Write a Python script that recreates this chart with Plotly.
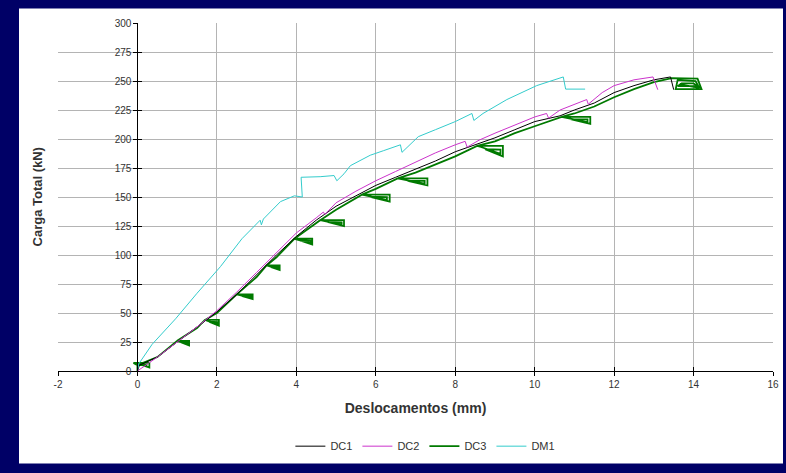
import plotly.graph_objects as go

# ---------------- data ----------------
dc1_x = [0, 0.05, 0.5, 1.0, 1.5, 2.0, 2.5, 3.0, 3.5, 4.0, 4.5, 5.0, 5.5, 6.0, 6.5, 7.0,
         7.5, 8.0, 8.5, 9.0, 9.5, 10.0, 10.64, 11.0, 11.5, 12.0, 12.5, 13.0, 13.42, 13.5]
dc1_y = [0, 5, 12, 25, 38, 51, 66, 83, 100, 116, 130, 142, 151, 160, 167, 174,
         181, 189, 195, 201, 208, 215, 220, 225, 231, 240, 246, 251, 253.5, 242.5]

dc2_x = [0, 0.5, 1.0, 1.5, 2.0, 2.5, 3.0, 3.5, 4.0, 4.5, 4.68, 4.72, 5.0, 5.5, 6.0, 6.5,
         7.0, 7.5, 8.0, 8.25, 8.3, 8.6, 9.0, 9.5, 10.0, 10.3, 10.35, 10.64, 11.31, 11.35,
         11.7, 12.0, 12.5, 12.98, 13.1]
dc2_y = [0, 12, 25, 38, 52, 68, 85, 102, 119, 132, 137, 135, 145, 155, 164, 172,
         180, 188, 195, 198, 193, 199, 205, 212, 219, 222, 218, 225, 234, 230,
         240, 246, 251, 253.5, 242.5]

# DC3 follows the loading curve with small load cycles ("flags") at each load step
dc3_x = [0, 0, -0.1, 0.3, 0.3, 0.05, 0.25, 0, 0.5,
         1.0, 1.3, 1.3, 1.09, 1.27, 1.27, 1.05, 1.0, 1.5,
         1.7, 2.05, 2.05, 1.8, 2.02, 2.02, 1.75, 1.7, 2.0,
         2.5, 2.9, 2.9, 2.62, 2.86, 2.86, 2.56, 2.5, 3.0,
         3.25, 3.58, 3.58, 3.35, 3.55, 3.55, 3.3, 3.25, 3.5,
         3.95, 4.4, 4.4, 4.09, 4.36, 4.36, 4.02, 3.95,
         4.6, 5.2, 5.2, 4.78, 5.14, 5.14, 4.69, 4.6, 5.0,
         5.65, 6.35, 6.35, 5.86, 6.28, 6.28, 5.75, 5.65, 6.0,
         6.55, 7.3, 7.3, 6.78, 7.23, 7.23, 6.66, 6.55, 7.0, 7.5, 8.0,
         8.55, 9.2, 9.2, 8.75, 9.14, 9.14, 8.65, 8.55, 9.0, 9.5, 10.0,
         10.68, 11.4, 11.4, 10.9, 11.33, 11.33, 10.79, 10.68, 11.0, 11.5, 12.0, 12.5, 13.0,
         13.45, 14.1, 14.2, 13.55, 13.6, 14.05, 14.12, 13.6, 13.7, 14.0, 14.15, 13.65]
dc3_y = [0, 5, 7, 7, 3, 6, 5, 5, 12,
         26, 26, 22, 24.8, 24.6, 23, 25.6, 26, 37,
         44, 44, 39, 42.5, 42.2, 40.2, 43.5, 44, 50,
         66, 66, 62, 64.8, 64.6, 63, 65.6, 66, 81,
         91, 91, 87, 89.8, 89.6, 88, 90.6, 91, 98,
         114, 114, 109, 112.5, 112.2, 110.2, 113.5, 114,
         130, 130, 125, 128.5, 128.2, 126.2, 129.5, 130, 139,
         152, 152, 146, 150.2, 149.9, 147.5, 151.4, 152, 157,
         166, 166, 160, 164.2, 163.9, 161.5, 165.4, 166, 171, 178, 185,
         194, 194, 185, 191.3, 190.9, 187.3, 193.1, 194, 198, 205, 211,
         219, 219, 213, 217.2, 216.9, 214.5, 218.4, 219, 222, 228, 236, 243, 249,
         252.5, 252, 243, 243, 251, 250, 245.5, 245.5, 248, 248, 244, 247]

dm1_x = [0, 0.03, 0.37, 0.96, 1.5, 2.09, 2.63, 3.09, 3.12, 3.17, 3.6, 3.95, 4.15, 4.12,
         4.6, 4.95, 5.02, 5.2, 5.36, 5.86, 6.2, 6.62, 6.66, 7.07, 7.5, 8.0, 8.42, 8.47,
         8.7, 9.3, 10.05, 10.4, 10.72, 10.78, 11.27]
dm1_y = [0, 6, 23, 45, 67, 90, 114, 130, 126, 131, 146, 151, 150, 167,
         167.5, 168.5, 164, 170, 177, 186, 190, 195, 188.5, 202, 208, 215, 222, 216,
         222, 234, 246, 250, 253.5, 243, 243]

series_names = ["DC1", "DC2", "DC3", "DM1"]
series_x = [dc1_x, dc2_x, dc3_x, dm1_x]
series_y = [dc1_y, dc2_y, dc3_y, dm1_y]
series_colors = ["#000000", "#CC33CC", "#007A00", "#33CCCC"]
series_widths = [1, 1, 1.8, 1]
draw_order = [2, 0, 1, 3]   # DC3 underneath, as in the reference

x_tickvals = [-2, 0, 2, 4, 6, 8, 10, 12, 14, 16]
x_ticktext = ["-2", "0", "2", "4", "6", "8", "10", "12", "14", "16"]
y_tickvals = [0, 25, 50, 75, 100, 125, 150, 175, 200, 225, 250, 275, 300]

x_range = [-2, 16]
y_range = [0, 300]

FONT = "Liberation Sans, Arial, sans-serif"

fig = go.Figure()
for i in draw_order:
    fig.add_trace(go.Scatter(x=series_x[i], y=series_y[i], mode="lines",
                             name=series_names[i], legendrank=i + 1,
                             line=dict(color=series_colors[i], width=series_widths[i])))

# helper (invisible) trace so the inner half of the crossing ticks is drawn
fig.add_trace(go.Scatter(x=[None], y=[None], xaxis="x2", yaxis="y2",
                         showlegend=False, hoverinfo="skip"))

ypos = (0 - x_range[0]) / (x_range[1] - x_range[0])

axis_common = dict(showline=True, linecolor="#000000", linewidth=1.2,
                   ticks="outside", ticklen=4, tickcolor="#000000", tickwidth=1,
                   zeroline=False, automargin=False,
                   tickfont=dict(family=FONT, size=10, color="#333333"))

fig.update_layout(
    width=786, height=473,
    paper_bgcolor="#000066", plot_bgcolor="#FFFFFF",
    margin=dict(l=58, r=13, t=23, b=89),
    font=dict(family=FONT, color="#333333"),
    showlegend=True,
    legend=dict(orientation="h", x=0.325, xanchor="left", y=-0.216, yanchor="middle",
                font=dict(family=FONT, size=11, color="#333333"),
                bgcolor="rgba(0,0,0,0)", itemwidth=30, tracegroupgap=0),
    xaxis=dict(range=x_range, tickmode="array", tickvals=x_tickvals, ticktext=x_ticktext,
               showgrid=True, gridcolor="#B4B4B4", gridwidth=1,
               title=dict(text="Deslocamentos (mm)", standoff=14,
                          font=dict(family=FONT, size=14, color="#333333", weight="bold")),
               **axis_common),
    yaxis=dict(range=y_range, tickmode="array", tickvals=y_tickvals,
               showgrid=True, gridcolor="#B4B4B4", gridwidth=1,
               anchor="free", position=ypos, **axis_common),
    xaxis2=dict(range=x_range, overlaying="x", anchor="y", side="bottom",
                tickmode="array", tickvals=x_tickvals, ticks="inside", ticklen=4,
                tickcolor="#000000", showticklabels=False, showgrid=False,
                zeroline=False, showline=False),
    yaxis2=dict(range=y_range, overlaying="y", anchor="free", position=ypos,
                tickmode="array", tickvals=y_tickvals, ticks="inside", ticklen=4,
                tickcolor="#000000", showticklabels=False, showgrid=False,
                zeroline=False, showline=False),
    shapes=[dict(type="rect", xref="paper", yref="paper", layer="below",
                 x0=(19 - 58) / 715, x1=(783 - 58) / 715,
                 y0=(384 - 480) / 361, y1=(384 - 8) / 361,
                 fillcolor="#FFFFFF", line=dict(width=0))],
    annotations=[dict(text="Carga Total (kN)", xref="paper", yref="paper",
                      x=(37 - 58) / 715, y=(384 - 204) / 361, textangle=-90,
                      showarrow=False, xanchor="center", yanchor="middle",
                      font=dict(family=FONT, size=13, color="#333333", weight="bold"))],
)

fig.write_html("out.html",
               config={"displayModeBar": False},
               post_script="document.body.style.margin='0';"
                           "document.body.style.background='#000066';"
                           "document.body.style.overflow='hidden';")
